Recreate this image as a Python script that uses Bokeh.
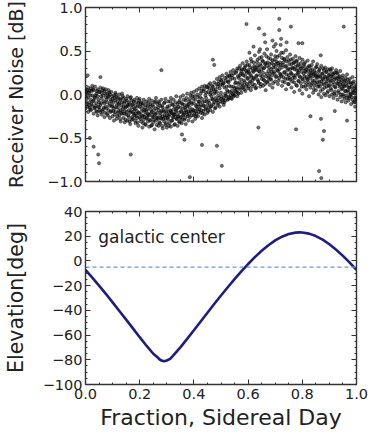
from bokeh.plotting import figure
from bokeh.layouts import column
from bokeh.models import LinearAxis, FixedTicker, Range1d, Span, Label
from bokeh.embed import file_html
from bokeh.resources import INLINE

# ---------------- data ----------------
# receiver noise samples: each row = [fraction of sidereal day, y, y, ...]
noise_rows = [
    [0.000, -0.16, -0.02, 0.06], [0.005, 0.01, -0.11, -0.05], [0.010, -0.20, 0.08, -0.03],
    [0.015, -0.09, 0.04, -0.15], [0.020, 0.07, -0.06, -0.18], [0.025, -0.13, -0.01, 0.10],
    [0.030, -0.07, 0.05, -0.22], [0.035, 0.09, -0.15, -0.04], [0.040, -0.10, 0.01, -0.19],
    [0.045, -0.02, -0.24, 0.06], [0.050, -0.15, 0.03, -0.09], [0.055, 0.08, -0.12, -0.20],
    [0.060, -0.05, -0.23, 0.02], [0.065, -0.17, -0.01, 0.07], [0.070, 0.04, -0.10, -0.26],
    [0.075, -0.14, -0.03, 0.06], [0.080, -0.22, 0.01, -0.09], [0.085, -0.02, -0.18, 0.05],
    [0.090, -0.11, -0.27, 0.00], [0.095, 0.03, -0.19, -0.08], [0.100, -0.25, -0.05, -0.13],
    [0.105, -0.01, -0.16, -0.30], [0.110, -0.20, -0.07, 0.02], [0.115, -0.12, -0.28, -0.03],
    [0.120, -0.04, -0.21, -0.15], [0.125, 0.00, -0.24, -0.10], [0.130, -0.18, -0.06, -0.31],
    [0.135, -0.09, -0.22, 0.01], [0.140, -0.27, -0.14, -0.04], [0.145, -0.08, -0.19, -0.32],
    [0.150, -0.23, -0.05, -0.14], [0.155, -0.12, -0.30, -0.02], [0.160, -0.26, -0.09, -0.18],
    [0.165, -0.04, -0.21, -0.34], [0.170, -0.15, -0.29, -0.07], [0.175, -0.28, -0.11, -0.20],
    [0.180, -0.06, -0.24, -0.16], [0.185, -0.33, -0.13, -0.22], [0.190, -0.19, -0.04, -0.27],
    [0.195, -0.10, -0.36, -0.21], [0.200, -0.26, -0.14, -0.05], [0.205, -0.20, -0.31, -0.09],
    [0.210, -0.12, -0.25, -0.38], [0.215, -0.29, -0.06, -0.18], [0.220, -0.15, -0.34, -0.23],
    [0.225, -0.08, -0.27, -0.19], [0.230, -0.31, -0.13, -0.22], [0.235, -0.05, -0.24, -0.37],
    [0.240, -0.17, -0.29, -0.11], [0.245, -0.35, -0.20, -0.07], [0.250, -0.14, -0.26, -0.32],
    [0.255, -0.23, -0.09, -0.40], [0.260, -0.30, -0.16, -0.04], [0.265, -0.11, -0.27, -0.21],
    [0.270, -0.36, -0.18, -0.08], [0.275, -0.24, -0.13, -0.33], [0.280, -0.06, -0.28, -0.19],
    [0.285, -0.39, -0.15, -0.25], [0.290, -0.20, -0.10, -0.31], [0.295, -0.27, -0.35, -0.05],
    [0.300, -0.16, -0.24, -0.38], [0.305, -0.29, -0.08, -0.20], [0.310, -0.13, -0.33, -0.23],
    [0.315, -0.37, -0.19, -0.04], [0.320, -0.22, -0.11, -0.30], [0.325, -0.06, -0.26, -0.17],
    [0.330, -0.34, -0.14, -0.23], [0.335, -0.18, -0.02, -0.28], [0.340, -0.25, -0.36, -0.11],
    [0.345, -0.09, -0.21, -0.31], [0.350, -0.27, -0.15, -0.03], [0.355, -0.20, -0.33, -0.10],
    [0.360, -0.01, -0.24, -0.16], [0.365, -0.29, -0.12, -0.21], [0.370, -0.07, -0.18, -0.34],
    [0.375, -0.23, 0.01, -0.14], [0.380, -0.11, -0.30, -0.19], [0.385, -0.26, -0.05, -0.15],
    [0.390, 0.02, -0.20, -0.09], [0.395, -0.17, -0.31, -0.02], [0.400, -0.24, -0.10, 0.03],
    [0.405, -0.06, -0.19, -0.28], [0.410, 0.05, -0.14, -0.22], [0.415, -0.25, -0.03, -0.11],
    [0.420, -0.17, 0.07, -0.08], [0.425, 0.01, -0.21, -0.12], [0.430, -0.27, -0.05, 0.09],
    [0.435, -0.13, 0.04, -0.19], [0.440, 0.10, -0.08, -0.23], [0.445, -0.16, 0.02, -0.04],
    [0.450, 0.08, -0.12, -0.21], [0.455, -0.07, 0.11, -0.15], [0.460, -0.18, 0.00, 0.13],
    [0.465, 0.05, -0.13, -0.02], [0.470, -0.20, 0.09, -0.06], [0.475, 0.14, -0.09, 0.01],
    [0.480, -0.15, 0.06, -0.04], [0.485, 0.18, -0.07, 0.03], [0.490, -0.10, 0.12, -0.01],
    [0.495, 0.07, -0.14, 0.20], [0.500, -0.05, 0.16, 0.02], [0.505, 0.11, -0.09, 0.22],
    [0.510, -0.04, 0.13, -0.12], [0.515, 0.19, 0.01, -0.07], [0.520, -0.02, 0.24, 0.09],
    [0.525, 0.15, -0.06, 0.03], [0.530, -0.03, 0.21, 0.10], [0.535, 0.17, -0.01, 0.26],
    [0.540, 0.04, 0.22, -0.05], [0.545, 0.28, 0.09, 0.00], [0.550, -0.01, 0.18, 0.07],
    [0.555, 0.25, 0.03, 0.14], [0.560, 0.06, 0.30, -0.02], [0.565, 0.19, 0.01, 0.12],
    [0.570, 0.33, 0.08, 0.22], [0.575, 0.02, 0.17, 0.27], [0.580, 0.24, 0.10, 0.36],
    [0.585, 0.06, 0.29, 0.16], [0.590, 0.21, 0.04, 0.33], [0.595, 0.12, 0.38, 0.25],
    [0.600, 0.07, 0.28, 0.19], [0.605, 0.34, 0.13, 0.24], [0.610, 0.05, 0.22, 0.41],
    [0.615, 0.30, 0.16, 0.09], [0.620, 0.19, 0.37, 0.26], [0.625, 0.11, 0.31, 0.45],
    [0.630, 0.28, 0.08, 0.21], [0.635, 0.40, 0.17, 0.33], [0.640, 0.13, 0.27, 0.49],
    [0.645, 0.35, 0.22, 0.09], [0.650, 0.18, 0.43, 0.29], [0.655, 0.25, 0.10, 0.38],
    [0.660, 0.47, 0.31, 0.16], [0.665, 0.21, 0.36, 0.05], [0.670, 0.33, 0.14, 0.52],
    [0.675, 0.27, 0.42, 0.19], [0.680, 0.11, 0.35, 0.24], [0.685, 0.46, 0.29, 0.17],
    [0.690, 0.22, 0.39, 0.08], [0.695, 0.34, 0.55, 0.26], [0.700, 0.15, 0.31, 0.44],
    [0.705, 0.38, 0.21, 0.50], [0.710, 0.27, 0.12, 0.36], [0.715, 0.45, 0.29, 0.19],
    [0.720, 0.23, 0.57, 0.34], [0.725, 0.10, 0.31, 0.42], [0.730, 0.37, 0.20, 0.48],
    [0.735, 0.26, 0.40, 0.14], [0.740, 0.33, 0.06, 0.51], [0.745, 0.18, 0.43, 0.28],
    [0.750, 0.39, 0.22, 0.12], [0.755, 0.29, 0.46, 0.17], [0.760, 0.08, 0.35, 0.24],
    [0.765, 0.41, 0.19, 0.30], [0.770, 0.14, 0.37, 0.03], [0.775, 0.32, 0.22, 0.44],
    [0.780, 0.10, 0.28, 0.39], [0.785, 0.35, 0.16, 0.25], [0.790, 0.05, 0.42, 0.21],
    [0.795, 0.30, 0.13, 0.36], [0.800, 0.18, 0.40, 0.01], [0.805, 0.33, 0.24, 0.09],
    [0.810, 0.14, 0.37, 0.27], [0.815, 0.29, 0.06, 0.20], [0.820, 0.39, 0.17, 0.11],
    [0.825, 0.23, 0.33, -0.02], [0.830, 0.08, 0.28, 0.19], [0.835, 0.34, 0.13, 0.25],
    [0.840, 0.02, 0.21, 0.38], [0.845, 0.27, 0.10, 0.16], [0.850, 0.31, 0.05, 0.22],
    [0.855, 0.14, 0.35, 0.19], [0.860, 0.26, 0.00, 0.11], [0.865, 0.09, 0.30, 0.21],
    [0.870, 0.33, 0.15, -0.03], [0.875, 0.06, 0.24, 0.18], [0.880, 0.28, 0.12, 0.01],
    [0.885, 0.20, -0.01, 0.31], [0.890, 0.09, 0.26, 0.15], [0.895, 0.29, 0.04, 0.19],
    [0.900, 0.11, 0.23, -0.02], [0.905, 0.27, 0.07, 0.16], [0.910, 0.00, 0.19, 0.30],
    [0.915, 0.14, -0.04, 0.24], [0.920, 0.25, 0.09, 0.03], [0.925, -0.01, 0.18, 0.28],
    [0.930, 0.12, 0.24, -0.06], [0.935, 0.20, 0.02, 0.15], [0.940, -0.03, 0.11, 0.27],
    [0.945, 0.17, 0.06, -0.08], [0.950, 0.22, 0.00, 0.12], [0.955, -0.05, 0.15, 0.09],
    [0.960, 0.19, 0.04, -0.09], [0.965, 0.10, -0.04, 0.23], [0.970, -0.07, 0.14, 0.03],
    [0.975, 0.18, -0.02, 0.08], [0.980, 0.01, 0.12, -0.11], [0.985, -0.06, 0.20, 0.05],
    [0.990, 0.15, -0.09, 0.03], [0.995, -0.03, 0.09, -0.14], [1.000, 0.11, -0.06, 0.02],
    [0.0025, -0.09, 0.03], [0.0075, -0.14, 0.05], [0.0125, 0.02, -0.12], [0.0175, -0.01, -0.17],
    [0.0225, -0.11, 0.04], [0.0275, 0.06, -0.08], [0.0325, -0.16, -0.03], [0.0375, -0.01, -0.13],
    [0.0425, -0.20, 0.04], [0.0475, -0.06, -0.14], [0.0525, 0.03, -0.18], [0.0575, -0.10, -0.02],
    [0.0625, -0.19, 0.05], [0.0675, -0.08, -0.15], [0.0725, 0.01, -0.21], [0.0775, -0.16, -0.06],
    [0.0825, -0.03, -0.24], [0.0875, -0.13, 0.02], [0.0925, -0.20, -0.06], [0.0975, -0.02, -0.14],
    [0.1025, -0.19, -0.09], [0.1075, -0.04, -0.23], [0.1125, -0.15, 0.00], [0.1175, -0.25, -0.08],
    [0.1225, -0.11, -0.19], [0.1275, -0.28, -0.05], [0.1325, -0.13, -0.21], [0.1375, -0.02, -0.17],
    [0.1425, -0.22, -0.10], [0.1475, -0.15, -0.29], [0.1525, -0.07, -0.20], [0.1575, -0.24, -0.13],
    [0.1625, -0.11, -0.31], [0.1675, -0.19, -0.03], [0.1725, -0.26, -0.12], [0.1775, -0.08, -0.22],
    [0.1825, -0.17, -0.30], [0.1875, -0.25, -0.09], [0.1925, -0.14, -0.32], [0.1975, -0.22, -0.07],
    [0.2025, -0.11, -0.28], [0.2075, -0.24, -0.16], [0.2125, -0.33, -0.10], [0.2175, -0.19, -0.26],
    [0.2225, -0.12, -0.35], [0.2275, -0.27, -0.17], [0.2325, -0.09, -0.23], [0.2375, -0.30, -0.14],
    [0.2425, -0.21, -0.36], [0.2475, -0.12, -0.25], [0.2525, -0.29, -0.18], [0.2575, -0.08, -0.22],
    [0.2625, -0.26, -0.35], [0.2675, -0.15, -0.28], [0.2725, -0.32, -0.10], [0.2775, -0.21, -0.27],
    [0.2825, -0.13, -0.36], [0.2875, -0.28, -0.18], [0.2925, -0.09, -0.24], [0.2975, -0.33, -0.20],
    [0.3025, -0.14, -0.27], [0.3075, -0.25, -0.36], [0.3125, -0.18, -0.08], [0.3175, -0.30, -0.21],
    [0.3225, -0.12, -0.26], [0.3275, -0.23, -0.35], [0.3325, -0.09, -0.20], [0.3375, -0.28, -0.16],
    [0.3425, -0.14, -0.25], [0.3475, -0.32, -0.07], [0.3525, -0.19, -0.26], [0.3575, -0.11, -0.29],
    [0.3625, -0.23, -0.06], [0.3675, -0.15, -0.27], [0.3725, -0.04, -0.20], [0.3775, -0.25, -0.12],
    [0.3825, -0.08, -0.22], [0.3875, -0.19, -0.01], [0.3925, -0.24, -0.11], [0.3975, -0.05, -0.18],
    [0.4025, -0.21, -0.02], [0.4075, -0.13, -0.25], [0.4125, 0.00, -0.17], [0.4175, -0.20, -0.08],
    [0.4225, -0.03, -0.14], [0.4275, -0.18, 0.04], [0.4325, -0.09, -0.22], [0.4375, 0.06, -0.13],
    [0.4425, -0.17, -0.01], [0.4475, -0.08, 0.09], [0.4525, -0.19, 0.03], [0.4575, 0.07, -0.10],
    [0.4625, -0.14, 0.02], [0.4675, 0.10, -0.05], [0.4725, -0.11, 0.06], [0.4775, 0.03, -0.16],
    [0.4825, -0.07, 0.12], [0.4875, 0.09, -0.12], [0.4925, -0.04, 0.15], [0.4975, 0.11, -0.08],
    [0.5025, -0.02, 0.17], [0.5075, 0.13, -0.06], [0.5125, -0.09, 0.08], [0.5175, 0.16, -0.01],
    [0.5225, 0.05, 0.20], [0.5275, -0.05, 0.14], [0.5325, 0.22, 0.03], [0.5375, 0.09, -0.04],
    [0.5425, 0.19, 0.01], [0.5475, -0.02, 0.24], [0.5525, 0.13, 0.04], [0.5575, 0.27, 0.08],
    [0.5625, 0.02, 0.21], [0.5675, 0.14, 0.30], [0.5725, 0.06, 0.24], [0.5775, 0.29, 0.12],
    [0.5825, 0.08, 0.22], [0.5875, 0.31, 0.14], [0.5925, 0.10, 0.27], [0.5975, 0.18, 0.34],
    [0.6025, 0.09, 0.26], [0.6075, 0.31, 0.15], [0.6125, 0.20, 0.38], [0.6175, 0.12, 0.27],
    [0.6225, 0.33, 0.18], [0.6275, 0.07, 0.29], [0.6325, 0.37, 0.22], [0.6375, 0.15, 0.31],
    [0.6425, 0.26, 0.42], [0.6475, 0.12, 0.33], [0.6525, 0.39, 0.21], [0.6575, 0.17, 0.30],
    [0.6625, 0.35, 0.12], [0.6675, 0.24, 0.44], [0.6725, 0.15, 0.37], [0.6775, 0.31, 0.21],
    [0.6825, 0.41, 0.18], [0.6875, 0.26, 0.36], [0.6925, 0.13, 0.31], [0.6975, 0.40, 0.24],
    [0.7025, 0.20, 0.35], [0.7075, 0.43, 0.28], [0.7125, 0.16, 0.33], [0.7175, 0.37, 0.24],
    [0.7225, 0.21, 0.48], [0.7275, 0.34, 0.15], [0.7325, 0.25, 0.41], [0.7375, 0.18, 0.32],
    [0.7425, 0.38, 0.23], [0.7475, 0.12, 0.30], [0.7525, 0.35, 0.19], [0.7575, 0.25, 0.40],
    [0.7625, 0.15, 0.31], [0.7675, 0.36, 0.22], [0.7725, 0.19, 0.29], [0.7775, 0.38, 0.11],
    [0.7825, 0.24, 0.33], [0.7875, 0.15, 0.28], [0.7925, 0.32, 0.20], [0.7975, 0.09, 0.26],
    [0.8025, 0.30, 0.17], [0.8075, 0.21, 0.35], [0.8125, 0.10, 0.26], [0.8175, 0.31, 0.18],
    [0.8225, 0.14, 0.27], [0.8275, 0.32, 0.21], [0.8325, 0.11, 0.24], [0.8375, 0.29, 0.16],
    [0.8425, 0.06, 0.23], [0.8475, 0.25, 0.13], [0.8525, 0.20, 0.32], [0.8575, 0.09, 0.22],
    [0.8625, 0.28, 0.15], [0.8675, 0.04, 0.20], [0.8725, 0.24, 0.12], [0.8775, 0.17, 0.30],
    [0.8825, 0.08, 0.21], [0.8875, 0.26, 0.13], [0.8925, 0.02, 0.18], [0.8975, 0.22, 0.10],
    [0.9025, 0.15, 0.29], [0.9075, 0.05, 0.21], [0.9125, 0.23, 0.11], [0.9175, 0.01, 0.17],
    [0.9225, 0.20, 0.08], [0.9275, 0.13, 0.25], [0.9325, 0.04, 0.18], [0.9375, 0.21, 0.09],
    [0.9425, 0.00, 0.14], [0.9475, 0.19, 0.07], [0.9525, 0.10, -0.02], [0.9575, 0.16, 0.04],
    [0.9625, -0.01, 0.12], [0.9675, 0.17, 0.05], [0.9725, 0.08, -0.04], [0.9775, 0.14, 0.00],
    [0.9825, -0.03, 0.09], [0.9875, 0.13, 0.02], [0.9925, -0.08, 0.07], [0.9975, 0.05, -0.04],
]
outlier_x = [0.016, 0.050, 0.047, 0.030, 0.167, 0.280, 0.356, 0.365, 0.385, 0.430, 0.470,
             0.475, 0.485, 0.503, 0.594, 0.638, 0.640, 0.660, 0.715, 0.715, 0.758, 0.777,
             0.786, 0.800, 0.868, 0.869, 0.862, 0.870, 0.876, 0.880, 0.953, 0.055, 0.008,
             0.620, 0.663, 0.690, 0.722, 0.742, 0.702, 0.605, 0.644, 0.920, 0.965, 0.830]
outlier_y = [-0.50, -0.79, -0.69, -0.60, -0.69, 0.28, -0.46, -0.52, -0.95, -0.58, 0.40,
             0.34, -0.59, -0.82, 0.81, -0.38, 0.76, 0.69, 0.87, 0.74, 0.78, -0.40,
             0.59, 0.59, 0.45, -0.28, -0.88, -0.96, -0.52, -0.42, 0.78, 0.20, 0.22,
             0.55, 0.60, 0.62, 0.64, 0.60, 0.58, 0.48, 0.52, -0.19, -0.30, -0.25]

# elevation of the galactic center
elev_x = [0.0, 0.025, 0.05, 0.075, 0.1, 0.125, 0.15, 0.175, 0.2, 0.225, 0.25, 0.2625, 0.275,
          0.2825, 0.29, 0.3, 0.3125, 0.325, 0.35, 0.375, 0.4, 0.425, 0.45, 0.475, 0.5, 0.525,
          0.55, 0.575, 0.6, 0.625, 0.65, 0.675, 0.7, 0.725, 0.75, 0.775, 0.79, 0.8, 0.825,
          0.85, 0.875, 0.9, 0.925, 0.95, 0.975, 1.0]
elev_y = [-7.3, -13.5, -20.0, -26.6, -33.5, -40.5, -47.5, -54.6, -61.7, -68.6, -75.1, -77.3,
          -80.0, -80.8, -81.1, -80.6, -79.3, -76.3, -70.0, -63.1, -56.1, -49.0, -41.9, -34.9,
          -28.0, -21.3, -14.7, -8.5, -2.5, 3.1, 8.2, 12.7, 16.6, 19.6, 21.8, 22.9, 23.1, 23.0,
          22.1, 20.1, 17.2, 13.5, 9.1, 4.1, -1.4, -7.3]
horizon_level = -5
annotation = "galactic center"

x_ticks = [0.0, 0.2, 0.4, 0.6, 0.8, 1.0]
x_tick_labels = ["0.0", "0.2", "0.4", "0.6", "0.8", "1.0"]
noise_ticks = [-1.0, -0.5, 0.0, 0.5, 1.0]
noise_tick_labels = ["\u22121.0", "\u22120.5", "0.0", "0.5", "1.0"]
elev_ticks = [-100, -80, -60, -40, -20, 0, 20, 40]
elev_tick_labels = ["\u2212100", "\u221280", "\u221260", "\u221240", "\u221220", "0", "20", "40"]

# ---------------- styling ----------------
FONT = "DejaVu Sans"
TXT = "#222222"
x_minor = [i * 0.05 for i in range(21)]
noise_minor = [-1.0 + i * 0.1 for i in range(21)]
elev_minor = [-100 + i * 5 for i in range(29)]


def style_axis(ax, ticks, labels, minor, show_labels):
    ax.ticker = FixedTicker(ticks=ticks, minor_ticks=minor)
    ax.axis_line_color = None
    ax.major_tick_in = 5
    ax.major_tick_out = 0
    ax.minor_tick_in = 2
    ax.minor_tick_out = 0
    ax.major_tick_line_color = "#333333"
    ax.minor_tick_line_color = "#333333"
    ax.major_tick_line_width = 1
    ax.minor_tick_line_width = 1
    ax.major_label_text_font = FONT
    ax.axis_label_text_font = FONT
    ax.axis_label_text_color = TXT
    ax.axis_label_text_font_style = "normal"
    if show_labels:
        ax.major_label_overrides = {t: l for t, l in zip(ticks, labels)}
        ax.major_label_text_color = TXT
        ax.major_label_text_font_size = "14.5px"
        ax.major_label_standoff = 3
    else:
        ax.major_label_text_color = None
        ax.major_label_text_font_size = "0px"
        ax.major_label_standoff = 0


def make_fig(height, yr, yticks, ylabels, yminor, show_x_labels, top_border, bottom_border):
    p = figure(width=372, height=height, x_range=Range1d(0, 1), y_range=Range1d(*yr),
               output_backend="svg", toolbar_location=None,
               min_border_left=73, min_border_right=16,
               min_border_top=top_border, min_border_bottom=bottom_border)
    p.grid.visible = False
    p.outline_line_color = "#333333"
    p.outline_line_width = 1.4
    p.background_fill_color = "white"
    p.border_fill_color = "white"
    left = p.yaxis[0]
    bottom = p.xaxis[0]
    style_axis(left, yticks, ylabels, yminor, True)
    style_axis(bottom, x_ticks, x_tick_labels, x_minor, show_x_labels)
    top = LinearAxis()
    style_axis(top, x_ticks, x_tick_labels, x_minor, False)
    p.add_layout(top, "above")
    right = LinearAxis()
    style_axis(right, yticks, ylabels, yminor, False)
    p.add_layout(right, "right")
    return p, left, bottom


# top: receiver noise
p1, p1_left, p1_bottom = make_fig(196, (-1.0, 1.0), noise_ticks, noise_tick_labels,
                                  noise_minor, False, 7, 15)
p1_left.axis_label = "Receiver Noise [dB]"
p1_left.axis_label_text_font_size = "19px"
p1_left.axis_label_standoff = 17
nx, ny = [], []
for row in noise_rows:
    for v in row[1:]:
        nx.append(row[0])
        ny.append(v)
dot = dict(size=3.3, fill_color="black", fill_alpha=0.55, line_color="black",
           line_alpha=0.8, line_width=0.5)
p1.scatter(nx, ny, **dot)
p1.scatter(outlier_x, outlier_y, **dot)

# bottom: elevation
p2, p2_left, p2_bottom = make_fig(236, (-100, 40), elev_ticks, elev_tick_labels,
                                  elev_minor, True, 15, 45)
p2_left.axis_label = "Elevation[deg]"
p2_left.axis_label_text_font_size = "20.5px"
p2_left.axis_label_standoff = 12
p2_bottom.axis_label = "Fraction, Sidereal Day"
p2_bottom.axis_label_text_font_size = "22px"
p2_bottom.axis_label_standoff = 3
p2_bottom.major_label_standoff = 4
p2.add_layout(Span(location=horizon_level, dimension="width", line_color="#6f94e0",
                   line_dash="4 3", line_width=1.3))
p2.line(elev_x, elev_y, line_color="#1e1e82", line_width=2.6)
p2.add_layout(Label(x=0.047, y=19.4, text=annotation, text_font=FONT,
                    text_font_size="17px", text_color=TXT, text_baseline="alphabetic"))

layout = column(p1, p2, spacing=0)
open("out.html", "w").write(file_html(layout, INLINE))
